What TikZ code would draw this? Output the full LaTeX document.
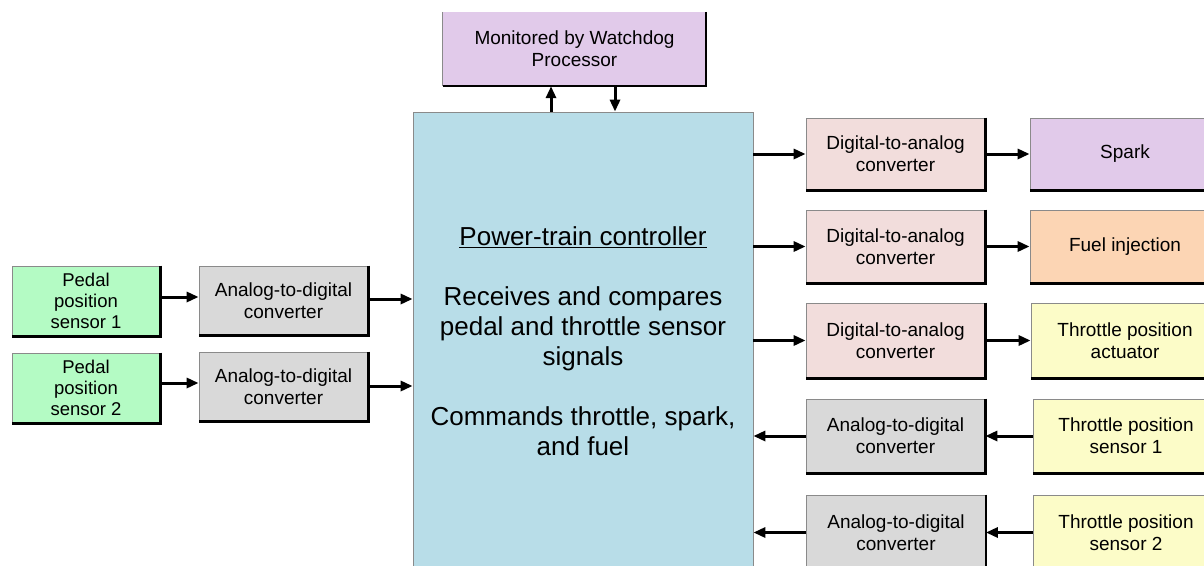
\documentclass[tikz,border=0pt]{standalone}
\usepackage{fontspec}
\setmainfont{Liberation Sans}
\usetikzlibrary{arrows.meta}
\definecolor{lav}{HTML}{E1CAEA}
\definecolor{ctrlblue}{HTML}{B8DDE8}
\definecolor{pgreen}{HTML}{B4FBC4}
\definecolor{adcgray}{HTML}{D9D9D9}
\definecolor{dacpink}{HTML}{F2DDDC}
\definecolor{fuelor}{HTML}{FCD5B4}
\definecolor{thyel}{HTML}{FCFCC8}
\definecolor{edgegray}{HTML}{8A8A8A}
\tikzset{
  blk/.style={draw=edgegray, line width=0.8pt, fill=#1, inner sep=0pt, align=center,
    font=\fontsize{19}{22}\selectfont},
  shade/.style={line width=2.2pt, black},
  arr/.style={line width=3pt, black, -{Triangle[length=12pt,width=10pt]}}
}
\begin{document}
\begin{tikzpicture}[x=1pt,y=-1pt]
\useasboundingbox (0,0) rectangle (1204,565);
% watchdog
\node[fill=lav, inner sep=0pt, minimum width=263pt, minimum height=74pt, align=center,
  font=\fontsize{19}{22}\selectfont] (wd) at (574.5,49) {Monitored by Watchdog\\Processor};
\draw[edgegray, line width=0.8pt] (wd.north west) -- (wd.south west);
% main controller
\node[blk=ctrlblue, minimum width=340pt, minimum height=458pt,
  font=\fontsize{26}{30}\selectfont] (main) at (583,341)
  {\underline{Power-train controller}\\[30pt]Receives and compares\\pedal and throttle sensor\\signals\\[30pt]Commands throttle, spark,\\and fuel};
% left side
\node[blk=pgreen, minimum width=148pt, minimum height=70pt, font=\fontsize{18.5}{21}\selectfont] (p1) at (86,301) {Pedal\\position\\sensor 1};
\node[blk=pgreen, minimum width=148pt, minimum height=70pt, font=\fontsize{18.5}{21}\selectfont] (p2) at (86,388) {Pedal\\position\\sensor 2};
\node[blk=adcgray, minimum width=169pt, minimum height=69pt] (a1) at (283.5,300.5) {Analog-to-digital\\converter};
\node[blk=adcgray, minimum width=169pt, minimum height=69pt] (a2) at (283.5,386.5) {Analog-to-digital\\converter};
% right side converters
\node[blk=dacpink, minimum width=179pt, minimum height=72pt] (d1) at (895.5,154) {Digital-to-analog\\converter};
\node[blk=dacpink, minimum width=179pt, minimum height=73pt] (d2) at (895.5,246.5) {Digital-to-analog\\converter};
\node[blk=dacpink, minimum width=179pt, minimum height=75pt] (d3) at (895.5,340.5) {Digital-to-analog\\converter};
\node[blk=adcgray, minimum width=179pt, minimum height=74pt] (d4) at (895.5,436) {Analog-to-digital\\converter};
\node[blk=adcgray, minimum width=179pt, minimum height=75pt] (d5) at (896,532.5) {Analog-to-digital\\converter};
% right side targets
\node[blk=lav, minimum width=190pt, minimum height=72pt] (sp) at (1125,154) {Spark};
\node[blk=fuelor, minimum width=190pt, minimum height=73pt] (fu) at (1125,246.5) {Fuel injection};
\node[blk=thyel, minimum width=188pt, minimum height=75pt] (ta) at (1125,340.5) {Throttle position\\actuator};
\node[blk=thyel, minimum width=186pt, minimum height=74pt] (ts1) at (1126,436) {Throttle position\\sensor 1};
\node[blk=thyel, minimum width=186pt, minimum height=75pt] (ts2) at (1126,532.5) {Throttle position\\sensor 2};
% shadow edges
\foreach \n in {wd,p1,p2,a1,a2,d1,d2,d3,d4,d5,sp,fu,ta,ts1,ts2}
  \draw[shade] (\n.north east) -- (\n.south east) -- (\n.south west);
% watchdog arrows
\coordinate (up) at (551,0);
\coordinate (dn) at (615,0);
\draw[arr] (main.north -| up) -- (wd.south -| up);
\draw[arr] (wd.south -| dn) -- (main.north -| dn);
% left arrows
\draw[arr] (p1.east |- 0,297) -- (a1.west |- 0,297);
\draw[arr] (p2.east |- 0,383) -- (a2.west |- 0,383);
\draw[arr] (a1.east |- 0,299) -- (main.west |- 0,299);
\draw[arr] (a2.east |- 0,386) -- (main.west |- 0,386);
% right arrows
\draw[arr] (main.east |- d1) -- (d1.west);
\draw[arr] (d1.east) -- (sp.west);
\draw[arr] (main.east |- d2) -- (d2.west);
\draw[arr] (d2.east) -- (fu.west);
\draw[arr] (main.east |- d3) -- (d3.west);
\draw[arr] (d3.east) -- (ta.west);
\draw[arr] (d4.west) -- (main.east |- d4);
\draw[arr] (ts1.west) -- (d4.east);
\draw[arr] (d5.west) -- (main.east |- d5);
\draw[arr] (ts2.west) -- (d5.east);
\end{tikzpicture}
\end{document}
